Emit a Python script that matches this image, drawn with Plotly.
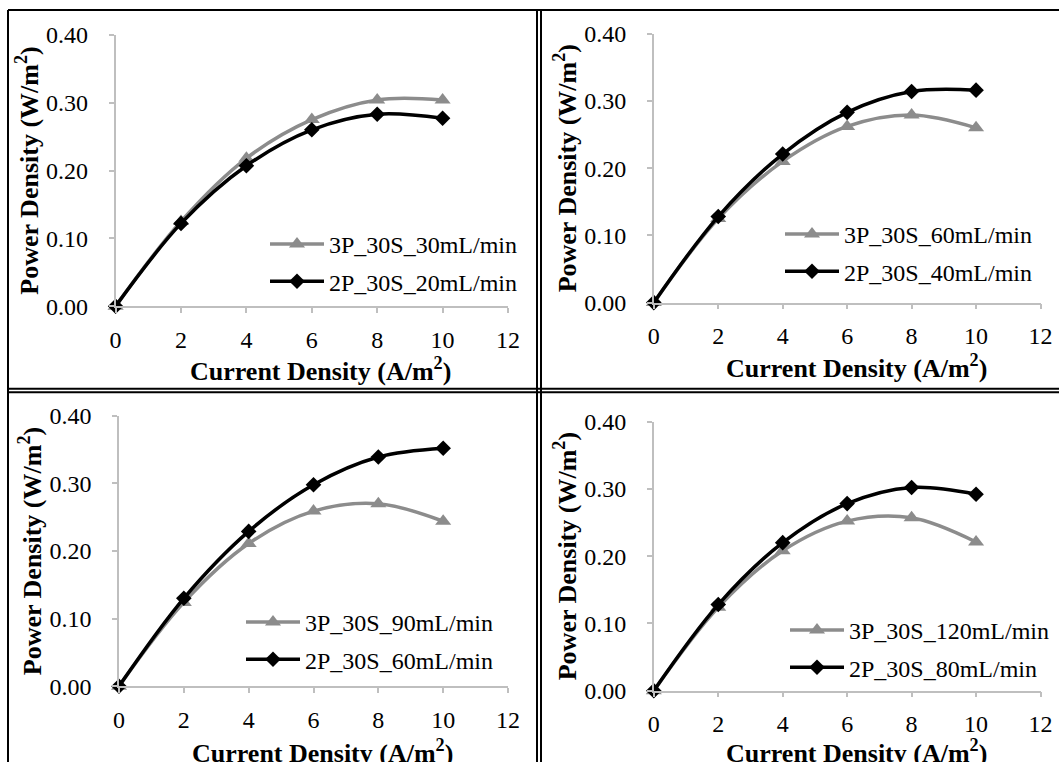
import plotly.graph_objects as go

# ---------------- data ----------------
current_density = [0, 2, 4, 6, 8, 10]

p1_3p_30 = [0, 0.125, 0.218, 0.275, 0.304, 0.304]
p1_2p_20 = [0, 0.122, 0.207, 0.260, 0.283, 0.277]

p2_3p_60 = [0, 0.125, 0.210, 0.262, 0.279, 0.260]
p2_2p_40 = [0, 0.128, 0.221, 0.283, 0.314, 0.316]

p3_3p_90 = [0, 0.124, 0.211, 0.259, 0.270, 0.244]
p3_2p_60 = [0, 0.130, 0.229, 0.298, 0.339, 0.352]

p4_3p_120 = [0, 0.124, 0.208, 0.252, 0.257, 0.221]
p4_2p_80 = [0, 0.128, 0.220, 0.278, 0.302, 0.292]

names_3p = ["3P_30S_30mL/min", "3P_30S_60mL/min", "3P_30S_90mL/min", "3P_30S_120mL/min"]
names_2p = ["2P_30S_20mL/min", "2P_30S_40mL/min", "2P_30S_60mL/min", "2P_30S_80mL/min"]
series_3p = [p1_3p_30, p2_3p_60, p3_3p_90, p4_3p_120]
series_2p = [p1_2p_20, p2_2p_40, p3_2p_60, p4_2p_80]

x_ticks = [0, 2, 4, 6, 8, 10, 12]
y_ticks = [0.0, 0.1, 0.2, 0.3, 0.4]

x_title = "<b>Current Density (A/m<sup>2</sup>)</b>"
y_title = "<b>Power Density (W/m<sup>2</sup>)</b>"

# ---------------- layout helpers ----------------
W, H = 1059, 762
FONT = "Liberation Serif, Times New Roman, serif"
GRAY = "#8c8c8c"
AXIS = "#bfbfbf"

def px_x(v):
    return v / W

def px_y(v):
    return 1 - v / H

# panel plot areas in pixels: (left, right, top, bottom)
panels = [
    (115.6, 508.0, 34.8, 306.2),
    (653.8, 1040.5, 33.7, 302.6),
    (119.0, 508.0, 415.8, 686.2),
    (653.8, 1040.5, 421.5, 690.7),
]
# x-title vertical centre (pixels)
x_title_y = [369, 367, 751, 751]
# legend anchor (text start x, first row centre y)
legend_pos = [
    (330, 245),
    (845, 235),
    (306, 623),
    (850, 631),
]

fig = go.Figure()

for i in range(4):
    n = i + 1
    xa = "x" if n == 1 else f"x{n}"
    ya = "y" if n == 1 else f"y{n}"
    lg = "legend" if n == 1 else f"legend{n}"
    fig.add_trace(go.Scatter(
        x=current_density, y=series_3p[i], name=names_3p[i],
        mode="lines+markers", xaxis=xa, yaxis=ya, legend=lg,
        legendgroup=f"g3_{n}",
        line=dict(color=GRAY, width=3.5, shape="spline", smoothing=1.0),
        marker=dict(symbol="triangle-up", size=14, color=GRAY),
        cliponaxis=False,
    ))
    fig.add_trace(go.Scatter(
        x=current_density, y=series_2p[i], name=names_2p[i],
        mode="lines+markers", xaxis=xa, yaxis=ya, legend=lg,
        legendgroup=f"g2_{n}",
        line=dict(color="#000000", width=3.5, shape="spline", smoothing=1.0),
        marker=dict(symbol="diamond", size=12, color="#000000"),
        cliponaxis=False,
    ))

layout = dict(
    width=W, height=H,
    margin=dict(l=0, r=0, t=0, b=0),
    paper_bgcolor="white", plot_bgcolor="white",
    font=dict(family=FONT, size=24, color="black"),
    showlegend=True,
)

annotations = []
for i, (l, r, t, b) in enumerate(panels):
    n = i + 1
    xk = "xaxis" if n == 1 else f"xaxis{n}"
    yk = "yaxis" if n == 1 else f"yaxis{n}"
    xa = "x" if n == 1 else f"x{n}"
    ya = "y" if n == 1 else f"y{n}"
    layout[xk] = dict(
        domain=[px_x(l), px_x(r)], anchor=ya, range=[0, 12],
        tickvals=x_ticks, ticks="outside", ticklen=5, tickwidth=1.5,
        tickcolor=AXIS, showline=True, linecolor=AXIS, linewidth=1.5,
        showgrid=False, zeroline=False,
        tickfont=dict(family=FONT, size=24, color="black"),
        ticklabelstandoff=6,
        automargin=False, fixedrange=True,
    )
    layout[yk] = dict(
        domain=[px_y(b), px_y(t)], anchor=xa, range=[0, 0.4],
        tickvals=y_ticks, tickformat=".2f", ticks="outside", ticklen=5,
        tickwidth=1.5, tickcolor=AXIS, showline=True, linecolor=AXIS,
        linewidth=1.5, showgrid=False, zeroline=False,
        tickfont=dict(family=FONT, size=24, color="black"),
        ticklabelstandoff=16,
        title=dict(text=y_title,
                   font=dict(family=FONT, size=26, color="black"), standoff=0),
        automargin=False, fixedrange=True,
    )
    # x-axis title (placed as annotation so it can sit at the page edge)
    annotations.append(dict(
        text=x_title, xref="paper", yref="paper",
        x=px_x((l + r) / 2 + 9), y=px_y(x_title_y[i]),
        xanchor="center", yanchor="middle", showarrow=False,
        font=dict(family=FONT, size=26, color="black"),
    ))
    lg = "legend" if n == 1 else f"legend{n}"
    tx, ty = legend_pos[i]
    layout[lg] = dict(
        x=px_x(tx - 65), y=px_y(ty - 23), xanchor="left", yanchor="top",
        xref="paper", yref="paper",
        font=dict(family=FONT, size=24, color="black"),
        bgcolor="rgba(0,0,0,0)", borderwidth=0, itemwidth=54,
        tracegroupgap=3,
    )

layout["annotations"] = annotations
fig.update_layout(**layout)

# panel frame lines (page borders)
frame = [
    (8, 10, 1059, 10),
    (8, 10, 8, 762),
    (537, 10, 537, 762),
    (541, 10, 541, 762),
    (8, 388.7, 1059, 388.7),
    (8, 392.3, 1059, 392.3),
]
for x0, y0, x1, y1 in frame:
    fig.add_shape(type="line", xref="paper", yref="paper",
                  x0=px_x(x0), y0=px_y(y0), x1=px_x(x1), y1=px_y(y1),
                  line=dict(color="black", width=2), layer="below")

fig.write_html(
    "out.html",
    config={"displayModeBar": False},
    post_script="document.body.style.margin='0';document.body.style.overflow='hidden';",
)
